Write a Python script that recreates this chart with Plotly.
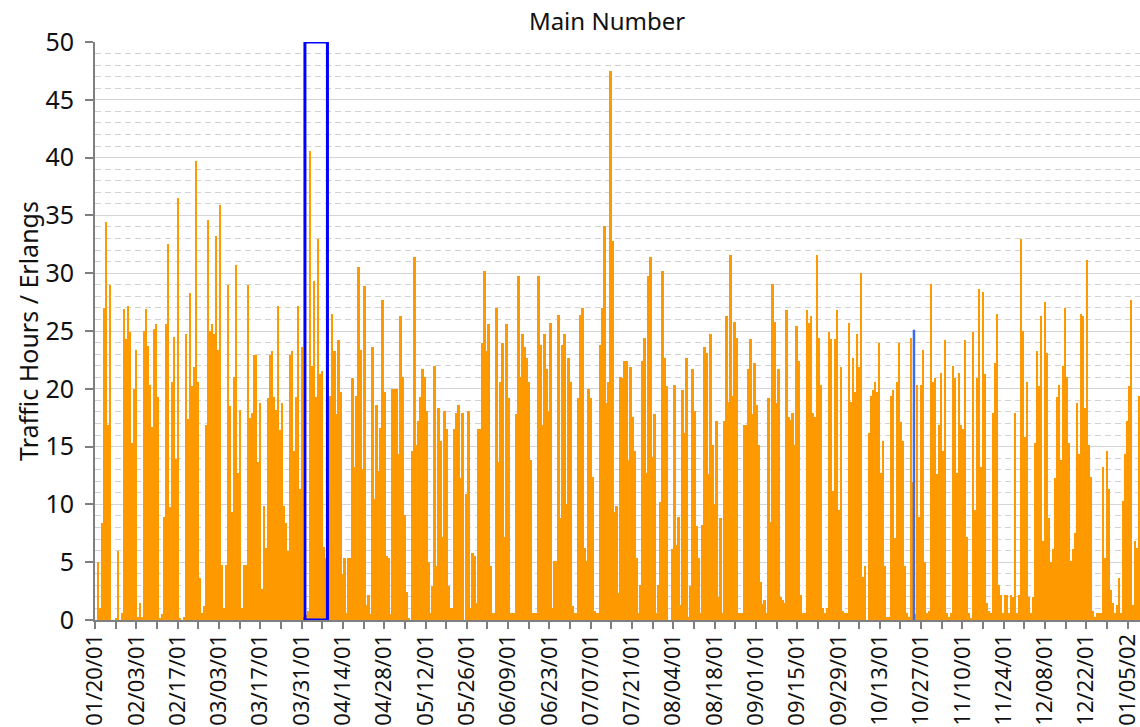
import pandas as pd
import plotly.graph_objects as go

# Traffic values (Erlangs), read left to right from the reference chart
seg1 = [5.0, 1.0, 8.4, 27.0, 34.4, 16.9, 29.0, 0, 0, 0.1, 6.0, 0, 0.6, 26.9, 24.3, 27.2, 24.9, 15.3, 20.0, 23.4,
        0.3, 1.5, 0.3, 25.0, 26.9, 23.7, 20.3, 16.7, 25.2, 25.6, 19.3, 0.1, 0.5, 8.9, 25.6, 32.5, 9.8, 20.6, 24.5, 13.9,
        36.5, 0.1, 0, 0.3, 24.7, 17.4, 28.3, 20.2, 21.9, 39.7, 20.6, 3.6, 0.6, 1.2, 16.9, 34.6, 25.0, 25.6, 24.7, 33.2,
        23.4, 35.9, 4.8, 1.0, 4.8, 29.0, 18.5, 9.3, 21.0, 30.7, 12.7, 18.2, 1.0, 4.8, 4.8, 29.0, 17.5, 17.9, 22.9, 22.9,
        13.7, 18.8, 2.7, 9.9, 6.2, 19.2]
seg2 = [22.9, 23.3, 19.3, 18.2, 27.2, 16.4, 18.8, 9.9, 8.4, 6.0, 22.9, 23.3, 14.6, 19.3, 27.2, 11.3, 23.6, 0.3, 0.4, 0.8,
        40.6, 22.0, 29.3, 19.3, 33.0, 21.3, 21.5, 6.3, 5.4, 11.0, 19.4, 26.5, 23.3, 17.8, 24.2, 19.7, 4.0, 5.4, 0.6, 5.4,
        5.4, 20.9, 13.2, 19.4, 30.5, 23.4, 13.1, 28.9, 1.3, 2.2, 0.5, 23.6, 10.5, 18.6, 12.9, 16.6, 27.7, 19.7, 5.5, 5.4,
        0.5, 20.0, 20.0, 20.0, 14.4, 26.3, 21.0, 9.1, 2.4, 0.1, 0, 14.6, 31.4, 15.1, 17.2, 19.3, 21.7, 21.0, 18.1, 5.0,
        0.6, 2.9, 22.0, 4.7, 18.3, 15.5, 7.2]
seg3 = [18.1, 16.5, 2.9, 1.0, 1.0, 16.5, 17.9, 18.6, 12.3, 17.9, 0, 10.9, 18.1, 1.0, 5.8, 5.5, 1.5, 16.5, 16.5, 24.0,
        30.2, 23.3, 25.6, 4.7, 0.6, 0.6, 27.0, 13.7, 20.6, 24.0, 7.2, 25.6, 19.2, 0.6, 0.6, 0.6, 17.8, 29.8, 21.0, 24.7,
        23.6, 22.7, 20.6, 13.8, 0.6, 0.6, 0.6, 29.8, 23.8, 16.9, 24.7, 21.7, 18.1, 25.7, 1.0, 5.1, 5.1, 26.4, 8.8, 23.8,
        24.7, 10.0, 22.7, 20.6, 1.2, 0.6, 0.6, 19.2, 26.4, 27.0, 6.2, 5.1, 20.0, 19.2, 12.4, 0.8, 0.6, 0.6, 23.8, 27.0,
        34.1, 18.8, 20.6, 47.5, 32.8, 9.3, 9.9]
seg4 = [2.3, 21.0, 20.9, 22.4, 22.4, 13.8, 21.9, 17.6, 14.6, 5.4, 0.6, 3.0, 22.4, 24.4, 12.7, 29.8, 31.4, 14.1, 17.8, 0.6,
        3.0, 10.2, 30.2, 22.7, 20.2, 0, 0, 6.1, 20.3, 6.5, 8.9, 1.3, 19.9, 16.2, 22.7, 0.3, 2.9, 21.7, 18.1, 8.1,
        5.4, 0.6, 8.2, 23.6, 23.1, 12.6, 24.7, 15.1, 10.0, 17.2, 2.0, 8.8, 0.6, 17.2, 26.3, 18.9, 31.6, 19.4, 25.8, 24.4,
        0.6, 0.6, 0.6, 16.9, 16.9, 21.7, 24.3, 17.8, 22.2, 18.6, 15.1, 3.3, 1.4, 1.7, 0.6, 19.2, 8.5, 29.1, 25.8, 18.8,
        21.7, 2.0, 1.7, 1.5, 26.8, 17.6, 17.3]
seg5 = [17.9, 15.1, 25.4, 22.4, 2.2, 0.6, 0.6, 26.8, 25.7, 26.3, 17.9, 17.6, 31.6, 24.4, 20.3, 1.0, 0.6, 1.0, 24.9, 24.3,
        11.2, 24.3, 26.8, 9.5, 21.9, 0.8, 0.6, 0.6, 25.7, 18.9, 22.7, 19.7, 24.7, 21.9, 30.0, 3.7, 4.7, 0, 16.2, 19.4,
        19.9, 20.6, 19.7, 24.0, 12.7, 15.5, 4.7, 0.3, 0.3, 19.4, 19.9, 7.1, 20.6, 24.0, 17.1, 15.5, 4.7, 0.6, 0.3, 24.4,
        11.9, 0.5, 20.3, 8.9, 20.3, 23.4, 5.0, 0.6, 0.8, 29.1, 20.6, 20.9, 12.6, 16.9, 21.4, 14.6, 24.2, 0.6, 0.3, 0.6,
        22.0, 20.9, 12.7, 21.4, 16.9, 16.5, 24.2]
seg6 = [7.2, 0.6, 0.2, 24.9, 9.5, 20.9, 28.6, 13.2, 28.4, 21.3, 1.5, 0.8, 0.6, 17.9, 22.2, 26.5, 3.0, 2.2, 0.6, 2.2,
        2.2, 0.6, 2.2, 2.0, 17.9, 0.6, 2.2, 33.0, 25.0, 15.8, 20.6, 2.0, 0.6, 2.0, 15.3, 23.3, 20.2, 26.3, 6.8, 27.5,
        23.1, 8.8, 5.0, 6.1, 12.3, 19.3, 20.3, 13.8, 22.0, 27.0, 21.0, 15.3, 5.1, 6.1, 7.5, 18.8, 14.4, 26.5, 26.3, 18.3,
        31.1, 15.1, 12.4, 0.8, 0.3, 0.6, 0.6, 0.6, 13.2, 5.4, 14.6, 11.3, 2.6, 1.5, 0.6, 1.3, 3.6, 0.6, 10.3, 14.4,
        17.2, 20.2, 27.7, 1.3, 6.8, 6.2, 19.4]

traffic = seg1 + seg2 + seg3 + seg4 + seg5 + seg6

# time span covered by the bars / axis
axis_start = pd.Timestamp("2001-01-19 23:00")
first_bar = pd.Timestamp("2001-01-20 16:00")
axis_end = pd.Timestamp("2002-01-09 05:00")
step = (axis_end - first_bar) / len(traffic)
x_times = [first_bar + step * (i + 0.5) for i in range(len(traffic))]
bar_width_ms = step.total_seconds() * 1000 * 1.2

# highlighted week and marked day
highlight_start = "2001-04-01 03:00"
highlight_end = "2001-04-08 18:00"
marker_day = "2001-10-24 14:00"
marker_value = 25.1

DAY = 86400000
FIG_W, FIG_H = 1140, 727

fig = go.Figure()
fig.add_trace(go.Bar(x=x_times, y=traffic, width=bar_width_ms,
                     marker=dict(color="#FF9900", line=dict(width=0)), hoverinfo="x+y"))

fig.add_shape(type="rect", xref="x", yref="y", x0=highlight_start, x1=highlight_end, y0=0, y1=50,
              line=dict(color="#0000FF", width=3), fillcolor="rgba(0,0,0,0)", layer="above")
fig.add_shape(type="line", xref="x", yref="y", x0=marker_day, x1=marker_day, y0=0, y1=marker_value,
              line=dict(color="#3D6AF2", width=2.5), layer="above")

fig.update_layout(
    width=FIG_W, height=FIG_H,
    margin=dict(l=95, r=0, t=42, b=107),
    plot_bgcolor="white", paper_bgcolor="white",
    bargap=0, showlegend=False,
    font=dict(family="Noto Sans", color="#111111"),
    title=dict(text="Main Number", x=607 / FIG_W, xanchor="center", xref="container",
               y=1 - 22 / FIG_H, yanchor="middle", font=dict(size=24, color="#111111")),
)
fig.update_xaxes(
    type="date", range=[axis_start, axis_end], automargin=False,
    tickmode="linear", tick0="2001-01-20", dtick=14 * DAY, tickformat="%m/%d/%y",
    tickangle=-90, ticks="outside", ticklen=7, tickcolor="#7f7f7f", tickwidth=1.5,
    ticklabelstandoff=-4, ticklabeloverflow="allow",
    showline=True, linecolor="#7f7f7f", linewidth=2, showgrid=False, zeroline=False,
    tickfont=dict(size=22, color="#111111"),
    minor=dict(tick0="2001-01-20", dtick=7 * DAY, ticks="outside", ticklen=7, tickcolor="#7f7f7f",
               tickwidth=1.5, showgrid=False),
)
fig.update_yaxes(
    range=[0, 50], tickmode="linear", tick0=0, dtick=5, automargin=False,
    ticks="outside", ticklen=8, tickcolor="#7f7f7f", tickwidth=1.5,
    ticklabelstandoff=6,
    showline=True, linecolor="#7f7f7f", linewidth=2, zeroline=False,
    showgrid=True, gridcolor="#d4d4d4", gridwidth=1,
    tickfont=dict(size=25, color="#111111"),
    title=dict(text="Traffic Hours / Erlangs", font=dict(size=25, color="#111111"), standoff=0),
    minor=dict(tick0=0, dtick=1, showgrid=True, gridcolor="#d2d2d2", griddash="6px,4px", gridwidth=1, ticks=""),
)

# remove the default page margin so the figure fills the window exactly
fig.write_html("out.html", config={"displayModeBar": False},
               post_script="document.body.style.margin='0';document.body.style.overflow='hidden';")
